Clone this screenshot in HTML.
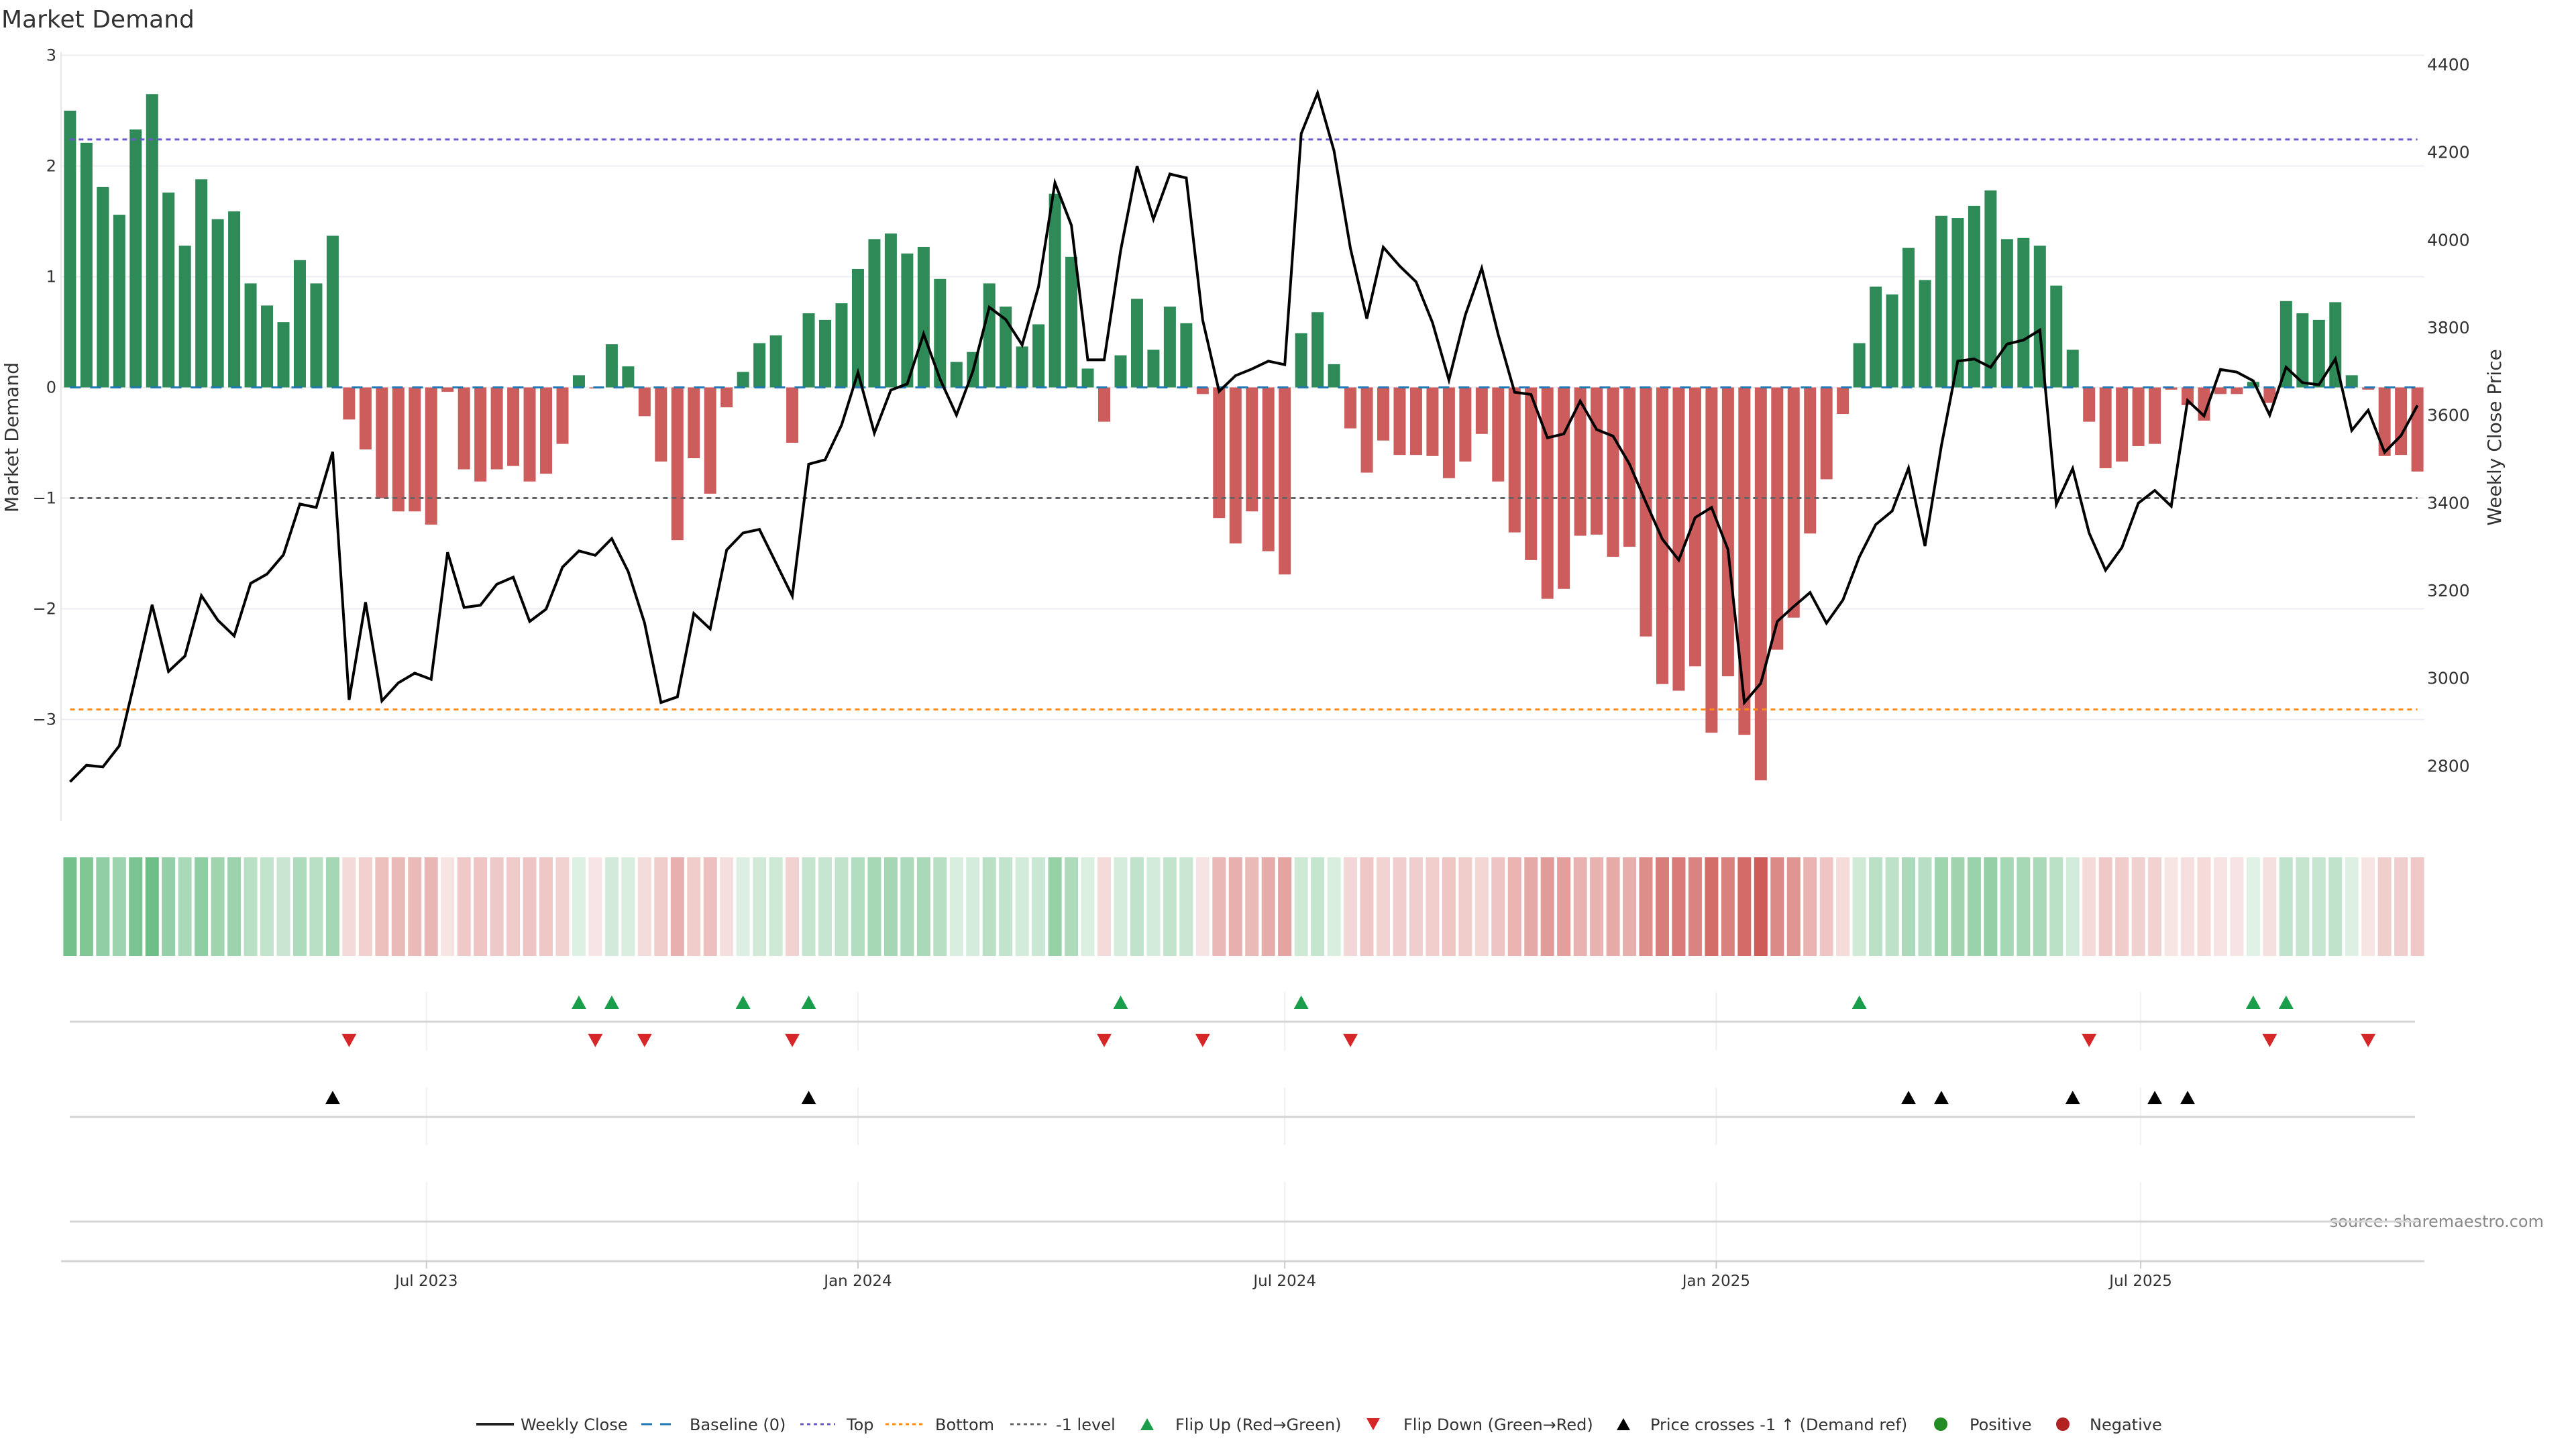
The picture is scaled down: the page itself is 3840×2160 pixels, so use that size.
<!DOCTYPE html>
<html><head><meta charset="utf-8"><title>Market Demand</title>
<style>
html,body{margin:0;padding:0;background:#fff;}
svg{display:block;font-family:"DejaVu Sans","Liberation Sans",sans-serif;}
</style></head>
<body>
<svg id="chart" width="3840" height="2160" viewBox="0 0 3840 2160" xmlns="http://www.w3.org/2000/svg">
<text x="2" y="41" font-size="36" fill="#333">Market Demand</text>
<text transform="translate(27,652) rotate(-90)" text-anchor="middle" font-size="28" fill="#333">Market Demand</text>
<text transform="translate(3728,652) rotate(-90)" text-anchor="middle" font-size="28" fill="#333">Weekly Close Price</text>
<text x="3792" y="1829" text-anchor="end" font-size="24" fill="#888">source: sharemaestro.com</text>
<g id="layer"></g>
</svg>
<script>
const demand = [2.50,2.21,1.81,1.56,2.33,2.65,1.76,1.28,1.88,1.52,1.59,0.94,0.74,0.59,1.15,0.94,1.37,-0.29,-0.56,-1.00,
-1.12,-1.12,-1.24,-0.04,-0.74,-0.85,-0.74,-0.71,-0.85,-0.78,-0.51,0.11,-0.01,0.39,0.19,-0.26,-0.67,-1.38,-0.64,-0.96,
-0.18,0.14,0.40,0.47,-0.50,0.67,0.61,0.76,1.07,1.34,1.39,1.21,1.27,0.98,0.23,0.32,0.94,0.73,0.37,0.57,
1.75,1.18,0.17,-0.31,0.29,0.80,0.34,0.73,0.58,-0.06,-1.18,-1.41,-1.12,-1.48,-1.69,0.49,0.68,0.21,-0.37,-0.77,
-0.48,-0.61,-0.61,-0.62,-0.82,-0.67,-0.42,-0.85,-1.31,-1.56,-1.91,-1.82,-1.34,-1.33,-1.53,-1.44,-2.25,-2.68,-2.74,-2.52,
-3.12,-2.61,-3.14,-3.55,-2.37,-2.08,-1.32,-0.83,-0.24,0.40,0.91,0.84,1.26,0.97,1.55,1.53,1.64,1.78,1.34,1.35,
1.28,0.92,0.34,-0.31,-0.73,-0.67,-0.53,-0.51,-0.02,-0.16,-0.30,-0.06,-0.06,0.05,-0.14,0.78,0.67,0.61,0.77,0.11,
-0.02,-0.62,-0.61,-0.76];
const price = [2763,2801,2797,2845,3003,3167,3015,3050,3188,3132,3096,3216,3237,3281,3397,3389,3516,2950,3173,2948,
2989,3011,2997,3287,3161,3166,3214,3230,3129,3157,3253,3290,3280,3318,3243,3126,2944,2957,3147,3112,
3292,3331,3339,3263,3187,3488,3498,3577,3697,3559,3657,3671,3785,3682,3600,3700,3846,3818,3760,3893,
4130,4033,3726,3726,3975,4168,4047,4150,4141,3817,3654,3690,3705,3723,3715,4242,4335,4203,3980,3820,
3983,3940,3904,3811,3680,3828,3935,3784,3652,3647,3548,3557,3632,3567,3552,3488,3401,3317,3269,3366,
3389,3293,2944,2988,3129,3163,3195,3125,3178,3276,3350,3381,3479,3301,3530,3723,3728,3709,3762,3771,
3794,3396,3478,3331,3246,3298,3399,3428,3392,3633,3598,3704,3698,3678,3600,3709,3674,3669,3728,3565,
3611,3515,3553,3622];
const demandTicks = [3,2,1,0,-1,-2,-3];
const priceTicks = [4400,4200,4000,3800,3600,3400,3200,3000,2800];
const refTop = [2.24];
const refBottom = [-2.91];
const refMinus1 = [-1];
const dateTickLabels = ["Jul 2023","Jan 2024","Jul 2024","Jan 2025","Jul 2025"];
const dateTickDates = ["2023-07-01","2024-01-01","2024-07-01","2025-01-01","2025-07-01"];
const startDate = "2023-01-30";

const NS="http://www.w3.org/2000/svg";
const layer=document.getElementById('layer');
function mk(tag,attrs,parent){const e=document.createElementNS(NS,tag);for(const k in attrs)e.setAttribute(k,attrs[k]);(parent||layer).appendChild(e);return e;}
const X0=104.4, STEP=24.47, PL=91, PR=3614;
const xi=i=>X0+i*STEP;
const day0=Date.parse(startDate);
const xd=s=>X0+(Date.parse(s)-day0)/86400000*(STEP/7);
const Y0=577.5, UNIT=165;
const yd=v=>Y0-v*UNIT;
const yp=p=>618.7-(p-3600)*0.6533;
const pFromY=y=>3600-(y-618.7)/0.6533;

demandTicks.forEach(t=>{
  const g=mk('line',{x1:PL,x2:PR,y1:yd(t),y2:yd(t),stroke:'#eceef3','stroke-width':2});
  
  
  const tx=mk('text',{x:84,y:yd(t)+8,'text-anchor':'end','font-size':24,fill:'#333'});
  tx.textContent=(t<0?'\u2212'+(-t):String(t));
  
  
});
priceTicks.forEach(p=>{
  const tx=mk('text',{x:3618,y:yp(p)+9,'font-size':25,fill:'#333'});
  tx.textContent=String(p);
  
  
});
const sp=mk('line',{x1:PL,x2:PL,y1:77,y2:1224,stroke:'#e6e8ee','stroke-width':2});



const BW=18;
demand.forEach((v,i)=>{
  const y=Math.min(yd(v),Y0), h=Math.abs(yd(v)-Y0);
  const r=mk('rect',{x:xi(i)-BW/2,y:y,width:BW,height:Math.max(h,0.5),fill:v>=0?'#2e8b57':'#cd5c5c'});
  
  
});
function ref(v,color,dash,name){
  const l=mk('line',{x1:X0,x2:xi(demand.length-1),y1:yd(v),y2:yd(v),stroke:color,'stroke-width':3,'stroke-dasharray':dash});
  
  
}
ref(0,'#1f77b4','16 14','baseline-zero');
ref(refTop[0],'#6a5acd','7 6','top-line');
ref(refBottom[0],'#ff8c1a','7 6','bottom-line');
ref(refMinus1[0],'#666','7 6','minus-one-line');
const pts=price.map((p,i)=>xi(i).toFixed(1)+','+yp(p).toFixed(1)).join(' ');
const pl=mk('polyline',{points:pts,fill:'none',stroke:'#000','stroke-width':4,'stroke-linejoin':'miter'});



const maxAbs=Math.max(...demand.map(Math.abs));
function mix(c,a){return 'rgb('+c.map(ch=>Math.round(255-(255-ch)*a)).join(',')+')';}
demand.forEach((v,i)=>{
  const a=0.14+0.76*Math.abs(v)/maxAbs;
  const c=v>=0?[49,163,84]:[201,74,69];
  const r=mk('rect',{x:xi(i)-10,y:1278,width:20,height:147,fill:mix(c,a)});
  
  
});

[[1479,1566],[1621,1707],[1762,1880]].forEach(([a,b])=>{
  dateTickDates.forEach(d=>{
    const l=mk('line',{x1:xd(d),x2:xd(d),y1:a,y2:b,stroke:'#eef0f4','stroke-width':2});
    
    
  });
});
[[1523,3600],[1665,3600],[1821,3605]].forEach(([y,x2])=>{
  const l=mk('line',{x1:104,x2:x2,y1:y,y2:y,stroke:'#d4d4d4','stroke-width':3});
  
  
});
const ax=mk('line',{x1:PL,x2:PR,y1:1880,y2:1880,stroke:'#d4d4d4','stroke-width':3});


dateTickDates.forEach((d,k)=>{
  const t=mk('line',{x1:xd(d),x2:xd(d),y1:1880,y2:1891,stroke:'#ccc','stroke-width':2});
  
  
  const tx=mk('text',{x:xd(d),y:1917,'text-anchor':'middle','font-size':23,fill:'#333'});
  tx.textContent=dateTickLabels[k];
  
  
});
function tri(x,y,up,color,name){
  const s=11;
  const p=up?`${x-s},${y+10} ${x+s},${y+10} ${x},${y-10}`:`${x-s},${y-10} ${x+s},${y-10} ${x},${y+10}`;
  const t=mk('polygon',{points:p,fill:color});
  
  
}
const thr=pFromY(yd(refMinus1[0]));
for(let i=1;i<demand.length;i++){
  if(demand[i-1]<0&&demand[i]>=0) tri(xi(i),1494,true,'#1a9e4b','flip-up-marker');
  if(demand[i-1]>=0&&demand[i]<0) tri(xi(i),1551,false,'#d62728','flip-down-marker');
  if(price[i-1]<thr&&price[i]>=thr) tri(xi(i),1636,true,'#000','price-cross-marker');
}

const LY=2123;
const lg=mk('g',{});


function ltext(x,s){const t=mk('text',{x:x,y:LY+9,'font-size':24,fill:'#333'},lg);t.textContent=s;}
function lline(x1,x2,color,dash,w){const l=mk('line',{x1:x1,x2:x2,y1:LY,y2:LY,stroke:color,'stroke-width':w,'stroke-dasharray':dash},lg);}
lline(710,766,'#222','none',4); ltext(776,'Weekly Close');
lline(956,1012,'#1f77b4','16 12',3); ltext(1028,'Baseline (0)');
lline(1193,1245,'#6a5acd','5 5',3); ltext(1262,'Top');
lline(1320,1376,'#ff8c1a','5 5',3); ltext(1394,'Bottom');
lline(1506,1560,'#666','5 5',3); ltext(1574,'-1 level');
function ltri(x,up,color){const s=10;const y=LY;const p=up?`${x-s},${y+9} ${x+s},${y+9} ${x},${y-9}`:`${x-s},${y-9} ${x+s},${y-9} ${x},${y+9}`;const t=mk('polygon',{points:p,fill:color},lg);}
ltri(1710,true,'#1a9e4b'); ltext(1752,'Flip Up (Red\u2192Green)');
ltri(2047,false,'#d62728'); ltext(2092,'Flip Down (Green\u2192Red)');
ltri(2420,true,'#000'); ltext(2460,'Price crosses -1 \u2191 (Demand ref)');
const c1=mk('circle',{cx:2893,cy:LY,r:10,fill:'#228b22'},lg);


ltext(2936,'Positive');
const c2=mk('circle',{cx:3075,cy:LY,r:10,fill:'#b22222'},lg);


ltext(3115,'Negative');
</script>
</body></html>
